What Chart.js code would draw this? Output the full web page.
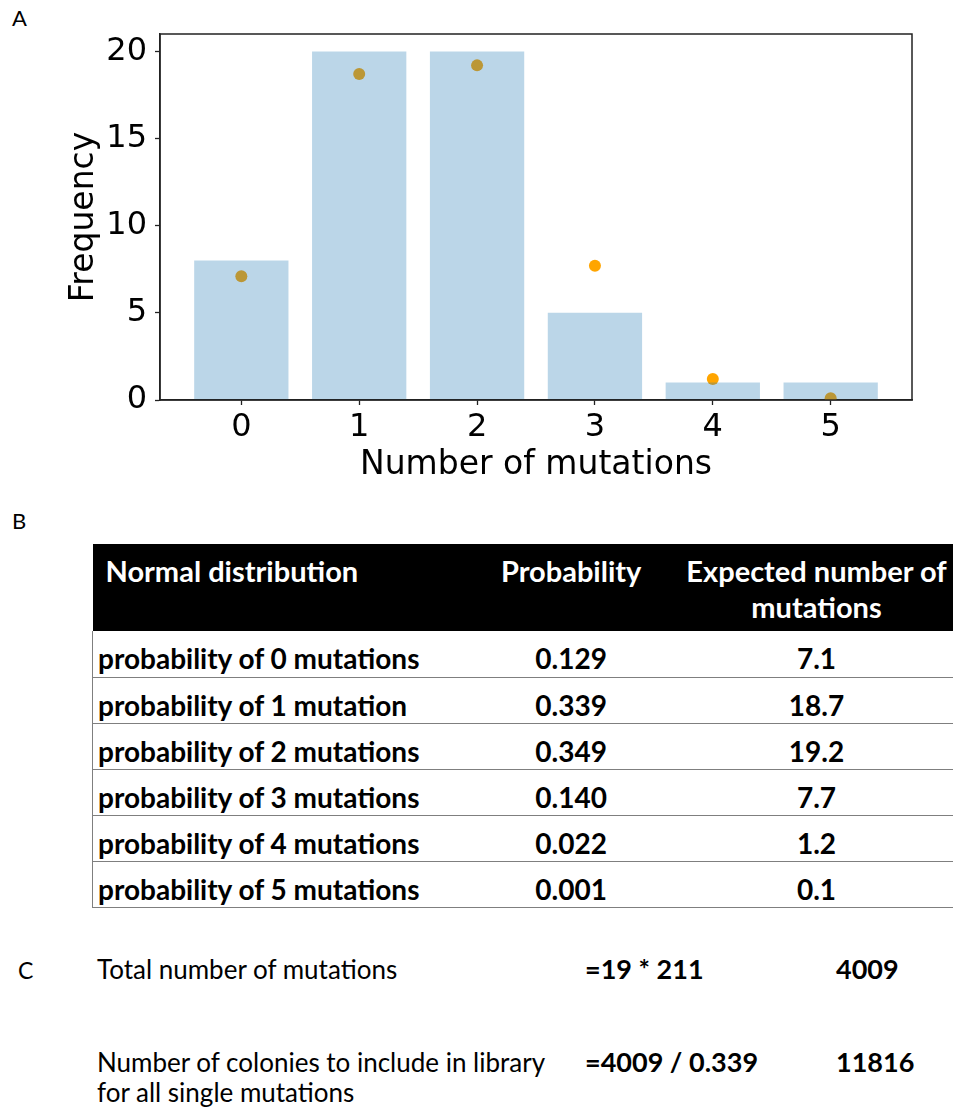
<!DOCTYPE html>
<html>
<head>
<meta charset="utf-8">
<script src="https://cdn.jsdelivr.net/npm/chart.js@4"></script>
<style>
  body { margin: 0; background: #fff; }
  #page { position: relative; width: 953px; height: 1112px; overflow: hidden; font-family: Lato, "Noto Sans", sans-serif; color: #000; }
  .panel { position: absolute; font-family: Lato, sans-serif; font-size: 22px; }
  #chartBox { position: absolute; left: 0; top: 0; width: 953px; height: 500px; }
  table { position: absolute; left: 92px; top: 544px; border-collapse: collapse; font-weight: bold; font-size: 28px; }
  th { background: #000; color: #fff; height: 87px; box-sizing: border-box; vertical-align: top; padding: 9px 0 0 0; line-height: 36px; font-weight: bold; font-size: 29px; white-space: nowrap; }
  td { height: 46px; box-sizing: border-box; vertical-align: top; padding: 12px 0 0 0; line-height: 30px; border-bottom: 1px solid #7f7f7f; white-space: nowrap; }
  td.first, th.first { text-align: left; padding-left: 5px; }
  th.first { padding-left: 13px; }
  td.first { border-left: 1px solid #7f7f7f; }
  td.num, th.num { text-align: center; }
  .c { position: absolute; font-size: 26px; line-height: 30px; }
  .b { font-weight: bold; font-size: 27px; }
</style>
</head>
<body>
<div id="page">
  <div class="panel" style="left:12px;top:4px;">A</div>
  <div id="chartBox"><canvas id="chart" width="953" height="500"></canvas></div>

  <div class="panel" style="left:12px;top:507px;">B</div>
  <table id="probTable"></table>

  <div class="panel" style="left:18px;top:956px;font-size:23px;">C</div>
  <div class="c" style="left:97px;top:954px;">Total number of mutations</div>
  <div class="c b" style="left:585px;top:954px;">=19 * 211</div>
  <div class="c b" style="left:836px;top:954px;">4009</div>
  <div class="c" style="left:97px;top:1047px;">Number of colonies to include in library<br>for all single mutations</div>
  <div class="c b" style="left:585px;top:1047px;">=4009 / 0.339</div>
  <div class="c b" style="left:836px;top:1047px;">11816</div>
</div>
<script>
// values
const categories = [0, 1, 2, 3, 4, 5];
const observed = [8, 20, 20, 5, 1, 1];
const expected = [7.1, 18.7, 19.2, 7.7, 1.2, 0.1];
const rowLabels = ['probability of 0 mutations', 'probability of 1 mutation', 'probability of 2 mutations',
                   'probability of 3 mutations', 'probability of 4 mutations', 'probability of 5 mutations'];
const probabilities = ['0.129', '0.339', '0.349', '0.140', '0.022', '0.001'];
const headers = ['Normal distribution', 'Probability', 'Expected number of<br>mutations'];

// Table
let table = document.getElementById('probTable');
table.innerHTML = `<tr><th class="first" style="width:370px">${headers[0]}</th><th class="num" style="width:218px">${headers[1]}</th><th class="num" style="width:273px">${headers[2]}</th></tr>`;
rowLabels.forEach((lab, i) => {
    let row = document.createElement('tr');
    row.innerHTML = `<td class="first">${lab}</td><td class="num">${probabilities[i]}</td><td class="num">${expected[i].toFixed(1)}</td>`;
    table.appendChild(row);
});

// frame around the plot area (matplotlib style box)
const frame = {
    id: 'frame',
    afterDatasetsDraw(chart) {
        const { ctx, chartArea: a } = chart;
        ctx.save();
        ctx.strokeStyle = '#222';
        ctx.lineWidth = 1.5;
        ctx.strokeRect(a.left, a.top, a.right - a.left, a.bottom - a.top);
        ctx.restore();
    }
};

Chart.defaults.font.family = '"DejaVu Sans", sans-serif';
Chart.defaults.color = '#000';

new Chart(document.getElementById('chart').getContext('2d'), {
    type: 'bar',
    data: {
        datasets: [
            {
                type: 'bar',
                label: 'Observed',
                data: categories.map((c, i) => ({ x: c, y: observed[i] })),
                backgroundColor: 'rgba(31,119,180,0.3)',
                barPercentage: 1,
                categoryPercentage: 0.8,
                order: 0
            },
            {
                type: 'scatter',
                label: 'Expected',
                data: categories.map((c, i) => ({ x: c, y: expected[i] })),
                backgroundColor: 'orange',
                borderWidth: 0,
                pointRadius: 6,
                clip: 0,
                order: 1
            }
        ]
    },
    options: {
        responsive: false,
        animation: false,
        layout: { padding: { top: 34, right: 41, left: 0, bottom: 0 } },
        plugins: { legend: { display: false }, tooltip: { enabled: false } },
        scales: {
            x: {
                type: 'linear',
                offset: false,
                min: -0.69,
                max: 5.69,
                afterFit: s => { s.height = 100; },
                ticks: {
                    stepSize: 1,
                    includeBounds: false,
                    padding: 3,
                    font: { size: 32 },
                    callback: v => String(Math.round(v))
                },
                grid: { offset: false, drawOnChartArea: false, tickLength: 5, color: '#222', tickWidth: 1.3 },
                border: { color: '#222', width: 1.5 },
                title: { display: true, text: 'Number of mutations', font: { size: 33 }, padding: { bottom: 15 } }
            },
            y: {
                min: 0,
                max: 21,
                afterFit: s => { s.width = 160; },
                ticks: { stepSize: 5, includeBounds: false, padding: 8, font: { size: 32 } },
                grid: { drawOnChartArea: false, tickLength: 5, color: '#222', tickWidth: 1.3 },
                border: { color: '#222', width: 1.5 },
                title: { display: true, text: 'Frequency', font: { size: 33 }, padding: { top: 65 } }
            }
        }
    },
    plugins: [frame]
});
</script>
</body>
</html>
